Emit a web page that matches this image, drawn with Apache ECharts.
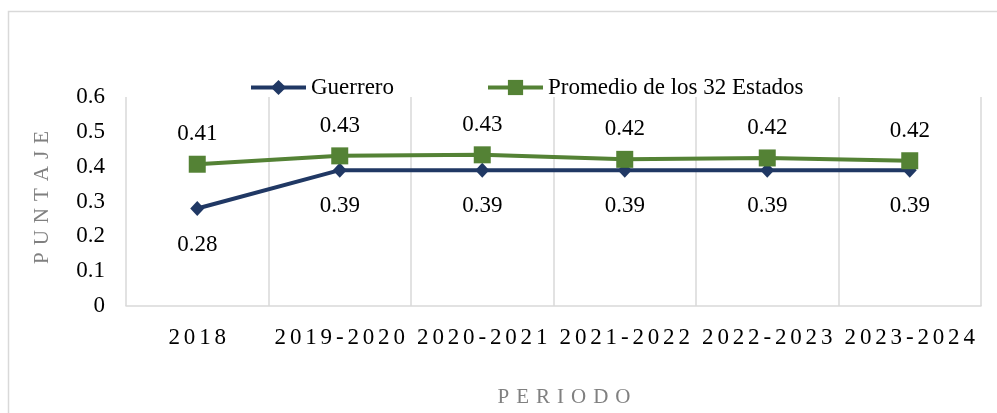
<!DOCTYPE html>
<html>
<head>
<meta charset="utf-8">
<script src="https://cdn.jsdelivr.net/npm/echarts@6/dist/echarts.min.js"></script>
<style>
html,body{margin:0;padding:0;background:#fff;}
#c{width:997px;height:413px;}
</style>
</head>
<body>
<div id="c"></div>
<script>
const categories = ['2018', '2019-2020', '2020-2021', '2021-2022', '2022-2023', '2023-2024'];
const guerrero = [0.28, 0.39, 0.39, 0.39, 0.39, 0.39];
const promedio = [0.407, 0.431, 0.434, 0.421, 0.425, 0.417];
const yTicks = [0, 0.1, 0.2, 0.3, 0.4, 0.5, 0.6];
const seriesNames = ['Guerrero', 'Promedio de los 32 Estados'];
const xTitle = 'PERIODO';
const yTitle = 'PUNTAJE';

const FONT = "'Liberation Serif', 'Times New Roman', serif";
const spaced = (s, sp) => s.split('').join(sp);

const chart = echarts.init(document.getElementById('c'), null, {renderer: 'canvas'});
chart.setOption({
  animation: false,
  backgroundColor: '#fff',
  textStyle: {fontFamily: FONT},
  graphic: [{
    type: 'rect', left: 6, top: 9, silent: true,
    shape: {x: 0, y: 0, width: 1010, height: 420},
    style: {fill: 'none', stroke: '#d9d9d9', lineWidth: 1.5}
  }],
  legend: {
    left: 244, top: 71,
    itemWidth: 55, itemHeight: 19, itemGap: 92,
    lineStyle: {width: 4},
    textStyle: {fontFamily: FONT, fontSize: 23, color: '#000'},
    data: seriesNames
  },
  grid: {left: 126, right: 16, top: 97, bottom: 106, containLabel: false},
  xAxis: {
    type: 'category',
    data: categories,
    boundaryGap: true,
    axisLine: {show: true, lineStyle: {color: '#d9d9d9', width: 1.5}},
    axisTick: {show: false},
    splitLine: {show: true, interval: 0, lineStyle: {color: '#d9d9d9', width: 1.5}},
    axisLabel: {
      interval: 0,
      fontFamily: FONT, fontSize: 23, color: '#000', margin: 20,
      formatter: v => spaced(v, '\u2006')
    },
    name: spaced(xTitle, '\u2004'),
    nameLocation: 'middle',
    nameGap: 81,
    nameTextStyle: {fontFamily: FONT, fontSize: 21, color: '#808080', padding: [0, 0, 0, 21]}
  },
  yAxis: {
    type: 'value',
    min: yTicks[0], max: yTicks[yTicks.length - 1], interval: 0.1,
    axisLine: {show: false},
    axisTick: {show: false},
    splitLine: {show: false},
    axisLabel: {
      fontFamily: FONT, fontSize: 23, color: '#000', margin: 21,
      formatter: v => String(Math.round(v * 10) / 10)
    },
    name: spaced(yTitle, '\u2004'),
    nameLocation: 'middle',
    nameGap: 73,
    nameRotate: 90,
    nameTextStyle: {fontFamily: FONT, fontSize: 21, color: '#808080', padding: [0, 0, 0, 8]}
  },
  series: [
    {
      name: seriesNames[0],
      type: 'line',
      data: guerrero,
      color: '#203864',
      symbol: 'diamond',
      symbolSize: [14, 15],
      lineStyle: {width: 4, color: '#203864'},
      itemStyle: {color: '#203864'},
      label: {
        show: true, position: 'bottom', distance: 17,
        fontFamily: FONT, fontSize: 23, color: '#000',
        formatter: p => p.value.toFixed(2)
      },
      z: 3
    },
    {
      name: seriesNames[1],
      type: 'line',
      data: promedio,
      color: '#548235',
      symbol: 'rect',
      symbolSize: 17,
      lineStyle: {width: 4, color: '#548235'},
      itemStyle: {color: '#548235'},
      label: {
        show: true, position: 'top', distance: 10,
        fontFamily: FONT, fontSize: 23, color: '#000',
        formatter: p => p.value.toFixed(2)
      },
      z: 4
    }
  ]
});
</script>
</body>
</html>
